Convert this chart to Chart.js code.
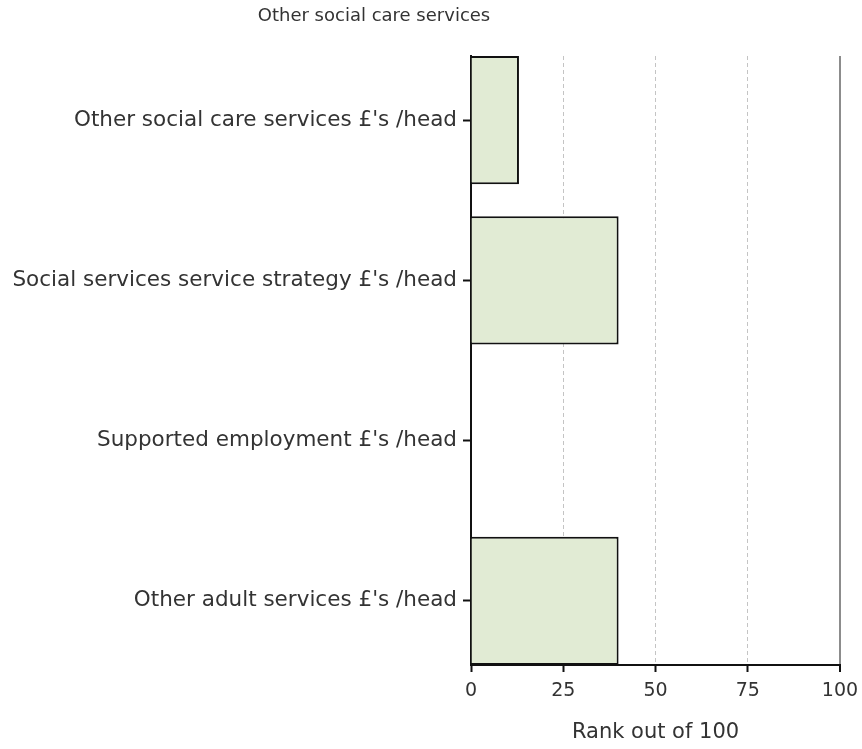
<!DOCTYPE html>
<html>
<head>
<meta charset="utf-8">
<script src="https://cdn.jsdelivr.net/npm/chart.js@4"></script>
<style>
  body { margin: 0; background: #fff; }
  #wrap { width: 862px; height: 749px; position: relative; }
</style>
</head>
<body>
<div id="wrap"><canvas id="rankChart"></canvas></div>
<script>
// chart data
const chartTitle = 'Other social care services';
const categories = [
    'Other social care services £\'s /head',
    'Social services service strategy £\'s /head',
    'Supported employment £\'s /head',
    'Other adult services £\'s /head'
];
const ranks = [13, 40, null, 40];
const xTicks = [0, 25, 50, 75, 100];
const xTitle = 'Rank out of 100';

const textColor = '#333';
const fontFamily = '"DejaVu Sans", sans-serif';

// title sits left of centre in the original, so draw it by hand
const titlePlugin = {
    id: 'topTitle',
    afterDraw(chart) {
        const ctx = chart.ctx;
        ctx.save();
        ctx.font = '18px ' + fontFamily;
        ctx.fillStyle = textColor;
        ctx.textAlign = 'center';
        ctx.textBaseline = 'middle';
        ctx.fillText(chartTitle, 374, 16);
        ctx.restore();
    }
};

const ctx = document.getElementById('rankChart');
new Chart(ctx.getContext('2d'), {
    type: 'bar',
    data: {
        datasets: [{
            data: ranks.map((v, i) => ({ x: v, y: i })),
            backgroundColor: '#e1ebd4',
            borderColor: '#111',
            borderWidth: 2,
            categoryPercentage: 1,
            barPercentage: 0.8
        }]
    },
    options: {
        indexAxis: 'y',
        responsive: true,
        maintainAspectRatio: false,
        animation: false,
        layout: { padding: { top: 56, right: 22, left: 0, bottom: 0 } },
        plugins: {
            legend: { display: false },
            tooltip: { enabled: false }
        },
        scales: {
            x: {
                type: 'linear',
                min: 0,
                max: 100,
                offset: false,
                afterBuildTicks: (scale) => { scale.ticks = xTicks.map(v => ({ value: v })); },
                afterFit: (scale) => {
                    scale.height = 84;
                    scale.paddingLeft = 0;
                    scale.paddingRight = 0;
                },
                ticks: {
                    color: textColor,
                    font: { family: fontFamily, size: 19 },
                    padding: 8
                },
                grid: {
                    offset: false,
                    color: (c) => c.tick && c.tick.value === 100 ? '#8c8c8c' : (c.tick && c.tick.value === 0 ? 'rgba(0,0,0,0)' : '#c4c4c4'),
                    lineWidth: (c) => c.tick && c.tick.value === 100 ? 2 : 1,
                    tickColor: '#111',
                    tickLength: 7,
                    tickWidth: 2
                },
                border: {
                    color: '#111',
                    width: 2,
                    dash: (c) => c.tick && c.tick.value !== 100 ? [4, 3] : []
                },
                title: {
                    display: true,
                    text: xTitle,
                    color: textColor,
                    font: { family: fontFamily, size: 21 },
                    padding: { top: 4, bottom: 4 }
                }
            },
            y: {
                type: 'linear',
                reverse: true,
                offset: false,
                min: -0.4,
                max: categories.length - 0.6,
                afterBuildTicks: (scale) => { scale.ticks = categories.map((_, i) => ({ value: i })); },
                afterFit: (scale) => { scale.width = 471; },
                ticks: {
                    color: textColor,
                    font: { family: fontFamily, size: 21.5 },
                    padding: 6,
                    callback: (v) => categories[v]
                },
                grid: {
                    offset: false,
                    drawOnChartArea: false,
                    tickColor: '#111',
                    tickLength: 8,
                    tickWidth: 2
                },
                border: { color: '#111', width: 2 }
            }
        }
    },
    plugins: [titlePlugin]
});
</script>
</body>
</html>
